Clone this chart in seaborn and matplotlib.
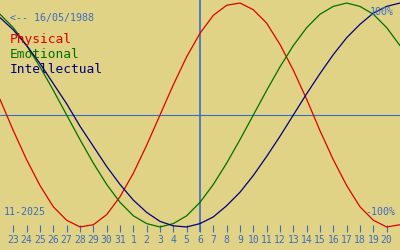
import numpy as np
import pandas as pd
import matplotlib
matplotlib.use("Agg")
import matplotlib.pyplot as plt
import seaborn as sns

# Day-of-month labels shown along the bottom (23 Oct .. 20 Nov)
day_labels = ["23", "24", "25", "26", "27", "28", "29", "30", "31",
              "1", "2", "3", "4", "5", "6", "7", "8", "9", "10",
              "11", "12", "13", "14", "15", "16", "17", "18", "19", "20"]

# Series values, one per day from 22 Oct to 21 Nov (one extra day each side)
physical = [0.14, -0.14, -0.40, -0.63, -0.82, -0.94, -1.00, -0.98, -0.89, -0.73,
            -0.52, -0.27, 0.00, 0.27, 0.52, 0.73, 0.89, 0.98, 1.00, 0.94,
            0.82, 0.63, 0.40, 0.14, -0.14, -0.40, -0.63, -0.82, -0.94, -1.00, -0.98]
emotional = [0.90, 0.78, 0.62, 0.43, 0.22, 0.00, -0.22, -0.43, -0.62, -0.78,
             -0.90, -0.97, -1.00, -0.97, -0.90, -0.78, -0.62, -0.43, -0.22, 0.00,
             0.22, 0.43, 0.62, 0.78, 0.90, 0.97, 1.00, 0.97, 0.90, 0.78, 0.62]
intellectual = [0.87, 0.76, 0.62, 0.46, 0.28, 0.10, -0.10, -0.28, -0.46, -0.62,
                -0.76, -0.87, -0.95, -0.99, -1.00, -0.97, -0.91, -0.81, -0.69, -0.54,
                -0.37, -0.19, 0.00, 0.19, 0.37, 0.54, 0.69, 0.81, 0.91, 0.97, 1.00]

series_names = ["Physical", "Emotional", "Intellectual"]
birth_label = "<-- 16/05/1988"
month_label = "11-2025"
today_label = "6"

BG = "#e1d385"
TXT = "#3a6cc4"
colors = {"Physical": "#dd0000", "Emotional": "#007000", "Intellectual": "#000080"}

sns.set_style("white")
plt.rcParams["font.family"] = ["DejaVu Sans Mono", "DejaVu Sans"]

positions = np.arange(-1, len(day_labels) + 1)
df = pd.DataFrame({
    "pos": np.tile(positions, 3),
    "value": physical + emotional + intellectual,
    "series": np.repeat(series_names, len(positions)),
})

fig = plt.figure(figsize=(4, 2.5), dpi=100)
fig.patch.set_facecolor(BG)
ax = fig.add_axes([0, 18 / 250, 1, 232 / 250])
ax.set_facecolor(BG)

sns.lineplot(data=df, x="pos", y="value", hue="series", palette=colors,
             legend=False, linewidth=0.9, ax=ax, zorder=3)

ax.set_xlim(-1, len(day_labels))
ax.set_ylim(-1.045, 1.027)

ax.axhline(0, color=TXT, linewidth=0.8, zorder=2)
ax.axvline(day_labels.index(today_label), color=TXT, linewidth=1.2, zorder=2)

ax.set_xticks(np.arange(len(day_labels)))
ax.set_xticklabels(day_labels)
ax.set_yticks([])
ax.tick_params(axis="x", direction="in", length=5, width=0.8, color=TXT,
               labelcolor=TXT, labelsize=7, pad=2.5, bottom=True)
ax.set_xlabel("")
ax.set_ylabel("")
for s in ax.spines.values():
    s.set_visible(False)

def px(x, y):
    return x / 400, 1 - y / 250

fig.text(*px(10, 20.5), birth_label, color=TXT, fontsize=7.2, va="baseline")
for name, yb in zip(series_names, [43.5, 58, 72.7]):
    fig.text(*px(10, yb), name, color=colors[name], fontsize=9.3, va="baseline")
fig.text(*px(394, 15), "100%", color=TXT, fontsize=7.2, va="baseline", ha="right")
fig.text(*px(395, 215), "-100%", color=TXT, fontsize=7.2, va="baseline", ha="right")
fig.text(*px(4, 215), month_label, color=TXT, fontsize=7.2, va="baseline")

fig.savefig("out.png", dpi=100, facecolor=BG)
